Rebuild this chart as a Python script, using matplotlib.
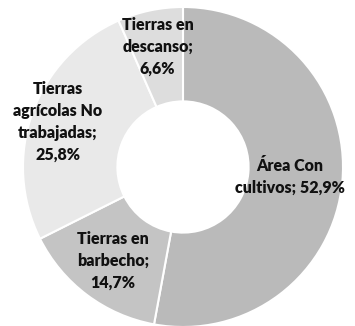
import numpy as np
import matplotlib
matplotlib.use("Agg")
import matplotlib.pyplot as plt

# Superficie agrícola por uso (%)
categorias = ["Área Con\ncultivos", "Tierras en\nbarbecho", "Tierras\nagrícolas No\ntrabajadas", "Tierras en\ndescanso"]
porcentajes = [52.9, 14.7, 25.8, 6.6]
colores = ["#bababa", "#c4c4c4", "#e9e9e9", "#dddddd"]
radio_etiqueta = [0.67, 0.73, 0.83, 0.77]

plt.rcParams["font.family"] = ["Lato", "DejaVu Sans"]

fig = plt.figure(figsize=(3.55, 3.26), dpi=100)
ax = fig.add_axes([23 / 355, -1 / 326, 320 / 355, 320 / 326])

wedges, _ = ax.pie(porcentajes, colors=colores, startangle=90, counterclock=False,
                   radius=1.0, wedgeprops=dict(width=0.59, edgecolor="white", linewidth=1.5))

for w, cat, pct, r in zip(wedges, categorias, porcentajes, radio_etiqueta):
    ang = np.deg2rad((w.theta1 + w.theta2) / 2)
    sep = " " if pct > 50 else "\n"
    txt = f"{cat};{sep}{pct:.1f}%".replace(".", ",")
    ax.text(r * np.cos(ang), r * np.sin(ang), txt, ha="center", va="center",
            fontsize=11.5, fontweight="heavy", color="#111111", linespacing=1.45)

ax.set_xlim(-1, 1)
ax.set_ylim(-1, 1)
ax.set_aspect("equal")
ax.axis("off")

fig.savefig("out.png", dpi=100)
